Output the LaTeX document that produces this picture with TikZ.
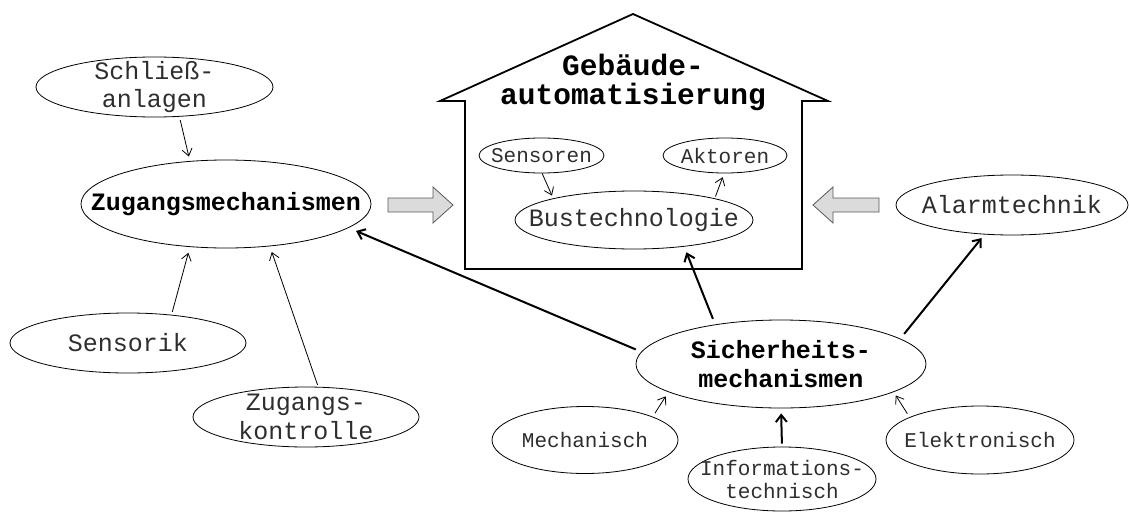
\documentclass[tikz,border=0pt]{standalone}
\usepackage{fontspec}
\setmonofont{Liberation Mono}
\usetikzlibrary{arrows.meta,shapes.geometric}
\begin{document}
\begin{tikzpicture}[x=1pt,y=-1pt,
  % negative inner sep lets the minimum sizes alone fix each ellipse
  bub/.style={draw, ellipse, line width=0.8pt, inner xsep=-200pt, inner ysep=-80pt,
    align=center, text=black!82,
    font=\ttfamily\fontsize{25}{28.5}\selectfont},
  smalltext/.style={font=\ttfamily\fontsize{21}{23}\selectfont},
  strongtext/.style={text=black, font=\ttfamily\bfseries\fontsize{25}{28.5}\selectfont},
  thinarrow/.style={-{Straight Barb[length=7pt,width=10pt]}, line width=0.8pt},
  thickarrow/.style={-{Straight Barb[length=7pt,width=11pt]}, line width=2pt},
  blockarrow/.style={draw=black!65, fill=black!14, line width=0.8pt, line join=miter},
  wall/.style={line width=1.8pt, line join=miter}]
\useasboundingbox (0,0) rectangle (1129,511);

% house outline
\draw[wall] (465,101) -- (440,101) -- (633,14) -- (828,101) -- (802,101)
  -- (802,269) -- (465,269) -- cycle;
\node[font=\ttfamily\bfseries\fontsize{29.5}{29}\selectfont, align=center, inner sep=0pt]
  (gebaeude) at (633,82) {Gebäude-\\automatisierung};

% block arrows towards the house
\draw[blockarrow] (388,198) -- (433,198) -- (433,187) -- (453,205) -- (433,223)
  -- (433,212) -- (388,212) -- cycle;
\draw[blockarrow] (879,198) -- (833,198) -- (833,187) -- (813,205) -- (833,223)
  -- (833,212) -- (879,212) -- cycle;

% nodes
\node[bub, minimum width=237pt, minimum height=60pt] (schl) at (154.5,87) {Schließ-\\anlagen};
\node[bub, strongtext, minimum width=290pt, minimum height=88pt] (zug) at (226,204) {Zugangsmechanismen};
\node[bub, minimum width=236pt, minimum height=60pt] (sensorik) at (128,343) {Sensorik};
\node[bub, minimum width=226pt, minimum height=60pt] (zk) at (306,417) {Zugangs-\\kontrolle};

\node[bub, smalltext, minimum width=125pt, minimum height=35pt] (sensoren) at (541.5,155.5) {Sensoren};
\node[bub, smalltext, minimum width=124pt, minimum height=35pt] (aktoren) at (725,155.5) {Aktoren};
\node[bub, minimum width=238pt, minimum height=58pt] (bus) at (634,220) {Bustechnologie};

\node[bub, minimum width=232pt, minimum height=60pt] (alarm) at (1012,205) {Alarmtechnik};
\node[bub, strongtext, minimum width=290pt, minimum height=88pt] (sich) at (781,364) {Sicherheits-\\mechanismen};
\node[bub, smalltext, minimum width=186pt, minimum height=67pt] (mech) at (585,440) {Mechanisch};
\node[bub, smalltext, minimum width=188pt, minimum height=64pt] (info) at (782,479) {Informations-\\technisch};
\node[bub, smalltext, minimum width=188pt, minimum height=68pt] (elek) at (980,440) {Elektronisch};

% connectors
\draw[thinarrow, shorten <=3.5pt, shorten >=4.5pt] (schl.-50) -- (zug.130);
\draw[thinarrow, shorten <=3pt, shorten >=6pt] (sensorik.33) -- (zug.-130);
\draw[thinarrow, shorten <=2pt, shorten >=6pt] (zk.68) -- (zug.-44);
\draw[thickarrow, shorten <=6pt, shorten >=8pt] (sich.175) -- (zug.-11.5);
\draw[thickarrow, shorten <=6pt, shorten >=6pt] (sich.149) -- (bus.-28);
\draw[thickarrow, shorten <=6pt, shorten >=4.5pt] (sich.12) -- (alarm.-133);
\draw[thinarrow, shorten <=4pt, shorten >=5pt] (mech.19) -- (sich.-166);
\draw[thickarrow, shorten <=3pt, shorten >=5pt] (info.90) -- (sich.-90);
\draw[thinarrow, shorten <=4pt, shorten >=4pt] (elek.162) -- (sich.-14);
\draw[thinarrow, shorten >=3pt] (sensoren.-88) -- (bus.165);
\draw[thinarrow, shorten <=2pt, shorten >=4pt] (bus.15.6) -- (aktoren.-93);
\end{tikzpicture}
\end{document}
